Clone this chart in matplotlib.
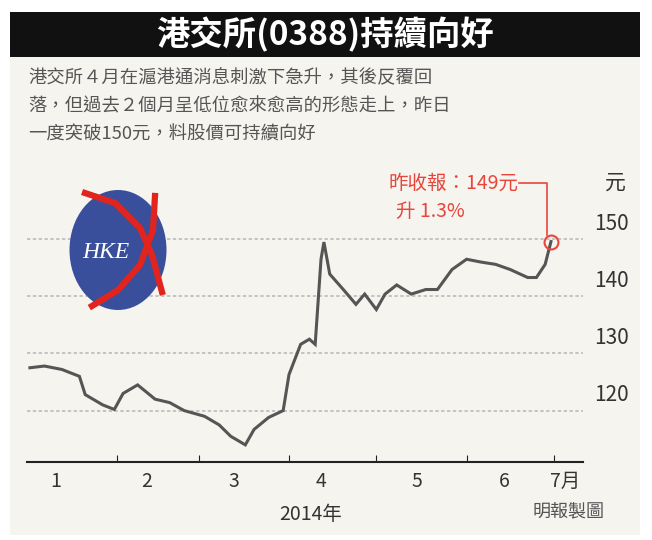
import matplotlib
matplotlib.use("Agg")
import matplotlib.pyplot as plt
from matplotlib.patches import Ellipse, Rectangle
import pandas as pd

plt.rcParams['font.family'] = ['Noto Sans CJK TC', 'DejaVu Sans']

dates = ["2014-01-02","2014-01-07","2014-01-13","2014-01-19","2014-01-21","2014-01-27","2014-01-31",
         "2014-02-03","2014-02-08","2014-02-14","2014-02-19","2014-02-24","2014-03-03","2014-03-08",
         "2014-03-12","2014-03-17","2014-03-20","2014-03-25","2014-03-30","2014-04-01","2014-04-05",
         "2014-04-08","2014-04-10",
         "2014-04-12","2014-04-13","2014-04-15","2014-04-20","2014-04-24","2014-04-27","2014-05-01",
         "2014-05-04","2014-05-08","2014-05-13","2014-05-18","2014-05-22","2014-05-27","2014-06-01",
         "2014-06-06","2014-06-11","2014-06-16","2014-06-22","2014-06-25","2014-06-28","2014-06-30"]
closes = [127.5,127.8,127.2,126.0,122.8,121.0,120.2,
          123.0,124.5,122.0,121.4,120.0,119.0,117.5,
          115.5,114.0,116.7,118.8,120.0,126.3,131.6,
          132.5,131.6,
          146.5,149.5,143.9,141.0,138.6,140.4,137.7,
          140.4,142.0,140.4,141.2,141.2,144.7,146.5,
          146.0,145.6,144.7,143.3,143.3,145.6,149.6]
month_labels = ["1","2","3","4","5","6","7月"]
month_pos = ["2014-01-11","2014-02-11","2014-03-13","2014-04-12","2014-05-15","2014-06-14","2014-07-05"]
yticks = [120, 130, 140, 150]

W, H = 652, 540
fig = plt.figure(figsize=(W/100, H/100), dpi=100)
fig.patch.set_facecolor('white')
def fx(x): return x/W
def fy(y): return 1-y/H

fig.patches.append(Rectangle((fx(10), fy(535)), fx(630), (535-57)/H, transform=fig.transFigure,
                             facecolor='#f6f4ef', edgecolor='none', zorder=-10))
fig.patches.append(Rectangle((fx(10), fy(57)), fx(630), 45/H, transform=fig.transFigure,
                             facecolor='#111111', edgecolor='none', zorder=-5))
fig.text(fx(325), fy(35), "港交所(0388)持續向好", color='white', fontsize=24, fontweight='bold',
         ha='center', va='center')
lines = ["港交所４月在滬港通消息刺激下急升，其後反覆回",
         "落，但過去２個月呈低位愈來愈高的形態走上，昨日",
         "一度突破150元，料股價可持續向好"]
for i, t in enumerate(lines):
    fig.text(fx(28), fy(78+28*i), t, color='#555555', fontsize=13.2, va='center', ha='left')

ax = fig.add_axes([fx(27), fy(462), fx(583-27), (462-165)/H])
ax.set_zorder(1)
ax.set_facecolor('none')
d = pd.to_datetime(dates)
ax.plot(d, closes, color='#555555', lw=2.2, solid_joinstyle='miter')
ax.set_ylim(111, 163)
ax.set_xlim(pd.Timestamp("2014-01-01"), pd.Timestamp("2014-07-11"))
for v in yticks:
    ax.axhline(v, color='#bbbbbb', lw=1.2, ls=(0, (2, 1.5)), zorder=0)
    ax.text(1.02, v+0.8, str(v), transform=ax.get_yaxis_transform(), fontsize=15,
            color='#333333', ha='left', va='bottom')
ax.set_yticks([])
for s in ['top', 'left', 'right']:
    ax.spines[s].set_visible(False)
ax.spines['bottom'].set_color('#222222')
ax.spines['bottom'].set_linewidth(1.5)
ax.set_xticks(pd.to_datetime(["2014-02-01","2014-03-01","2014-04-01","2014-05-01","2014-06-01","2014-07-01"]))
ax.set_xticklabels([])
ax.tick_params(axis='x', direction='in', length=5, color='#222222')
for lab, p in zip(month_labels, pd.to_datetime(month_pos)):
    ax.text(p, -0.03, lab, transform=ax.get_xaxis_transform(), fontsize=14, ha='center', va='top', color='#333333')
ax.text(0.51, -0.14, "2014年", transform=ax.transAxes, fontsize=14, ha='center', va='top', color='#333333')
fig.text(fx(605), fy(512), "明報製圖", fontsize=13, ha='right', va='center', color='#555555')
fig.text(fx(615), fy(183), "元", fontsize=15, ha='center', va='center', color='#333333')

ax.plot(d[-1], closes[-1], 'o', ms=10, mfc='none', mec='#e8453c', mew=1.5, zorder=5)
fig.text(fx(518), fy(183), "昨收報：149元", fontsize=14, color='#e8453c', ha='right', va='center')
fig.text(fx(430), fy(211), "升 1.3%", fontsize=14, color='#e8453c', ha='center', va='center')
fig.add_artist(plt.Line2D([fx(519), fx(547), fx(547)], [fy(183), fy(183), fy(235)],
                          transform=fig.transFigure, color='#e8453c', lw=1.2))

# logo
fig.patches.append(Ellipse((fx(118), fy(250)), 97/W, 120/H, transform=fig.transFigure,
                           facecolor='#3a4f9c', edgecolor='none', zorder=3))
fig.text(fx(106), fy(252), "HKE", fontsize=17, color='white', style='italic', family='Liberation Serif',
         ha='center', va='center', zorder=4)
fig.add_artist(plt.Line2D([fx(85), fx(115), fx(140), fx(152), fx(162)], [fy(193), fy(203), fy(228), fy(255), fy(292)],
                          transform=fig.transFigure, color='#e2241f', lw=4.5, zorder=5))
fig.add_artist(plt.Line2D([fx(155), fx(153), fx(140), fx(118), fx(92)], [fy(196), fy(230), fy(265), fy(290), fy(306)],
                          transform=fig.transFigure, color='#e2241f', lw=4.5, zorder=5))

fig.savefig("out.png", dpi=100)
